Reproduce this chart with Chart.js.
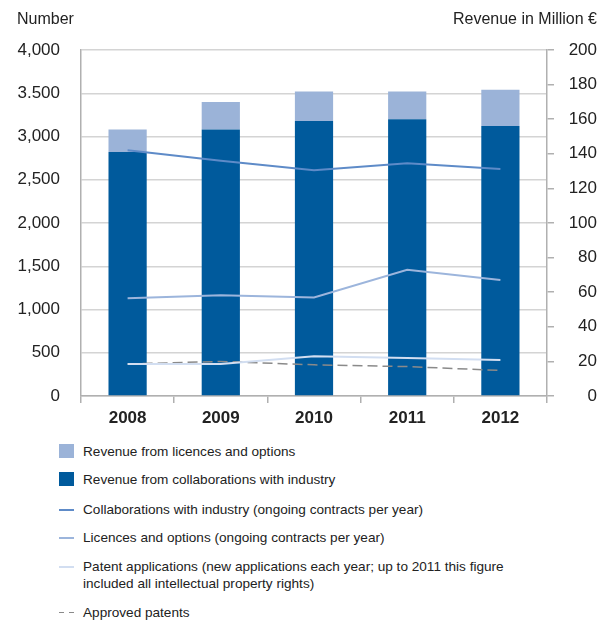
<!DOCTYPE html>
<html>
<head>
<meta charset="utf-8">
<script src="https://cdn.jsdelivr.net/npm/chart.js@4/dist/chart.umd.min.js"></script>
<style>
  body { margin: 0; background: #fff; font-family: "Liberation Sans", Arial, sans-serif; color: #222; }
  #wrap { position: relative; width: 612px; height: 621px; }
  #chart { position: absolute; left: 0; top: 0; }
  .head { position: absolute; top: 9px; font-size: 16px; line-height: 20px; }
  .legend { position: absolute; left: 0; top: 0; font-size: 13.6px; }
  .item { position: absolute; left: 83px; line-height: 17px; white-space: nowrap; }
  .sw { position: absolute; left: -24px; }
</style>
</head>
<body>
<div id="wrap">
  <canvas id="chart" width="612" height="440"></canvas>
  <div class="head" style="left:17px">Number</div>
  <div class="head" style="right:15px">Revenue in Million €</div>
  <div class="legend" id="legend"></div>
</div>
<script>
const years = ["2008", "2009", "2010", "2011", "2012"];

// revenue in million euro (right axis, stacked bars)
const revenueCollab = [141, 154, 159, 160, 156];
const revenueLicences = [13, 16, 17, 16, 21];

// counts (left axis, lines)
const contractsCollab = [2840, 2720, 2610, 2690, 2625];
const contractsLicences = [1130, 1165, 1140, 1460, 1340];
const patentApplications = [370, 370, 460, 440, 415];
const approvedPatents = [370, 400, 360, 340, 295];

const leftTicks = ["0", "500", "1,000", "1,500", "2,000", "2,500", "3,000", "3.500", "4,000"];
const rightTicks = ["0", "20", "40", "60", "80", "100", "120", "140", "160", "180", "200"];

const darkBlue = "#005a9c";
const lightBlue = "#9bb3d8";

const ctx = document.getElementById("chart").getContext("2d");
Chart.defaults.font.family = '"Liberation Sans", Arial, sans-serif';
Chart.defaults.color = "#222";

new Chart(ctx, {
  type: "bar",
  data: {
    labels: years,
    datasets: [
      { label: "Revenue from collaborations with industry", data: revenueCollab, backgroundColor: darkBlue,
        yAxisID: "y1", order: 2, barPercentage: 0.41, categoryPercentage: 1 },
      { label: "Revenue from licences and options", data: revenueLicences, backgroundColor: lightBlue,
        yAxisID: "y1", order: 2, barPercentage: 0.41, categoryPercentage: 1 },
      { type: "line", label: "Collaborations with industry", data: contractsCollab, borderColor: "#5e8bc8",
        borderWidth: 2, pointRadius: 0, tension: 0, yAxisID: "y", order: 0 },
      { type: "line", label: "Licences and options", data: contractsLicences, borderColor: "#9cb5dc",
        borderWidth: 2, pointRadius: 0, tension: 0, yAxisID: "y", order: 0 },
      { type: "line", label: "Patent applications", data: patentApplications, borderColor: "#d2def1",
        borderWidth: 2, pointRadius: 0, tension: 0, yAxisID: "y", order: 0 },
      { type: "line", label: "Approved patents", data: approvedPatents, borderColor: "#8a8a8a",
        borderWidth: 1.5, borderDash: [10, 5], pointRadius: 0, tension: 0, yAxisID: "y", order: 0 }
    ]
  },
  options: {
    responsive: false,
    animation: false,
    layout: { padding: { left: 0, right: 15, top: 50, bottom: 0 } },
    plugins: { legend: { display: false }, tooltip: { enabled: false } },
    scales: {
      x: {
        stacked: true,
        offset: true,
        grid: { offset: true, drawOnChartArea: false, tickLength: 7, color: "#b0b0b0", lineWidth: 1.5 },
        border: { color: "#b0b0b0", width: 1.5 },
        ticks: { font: { size: 17, weight: "bold" }, padding: 5 },
        afterFit: s => { s.height = 44; }
      },
      y: {
        position: "left",
        stacked: false,
        min: 0, max: 4000,
        grid: { color: "#d4d4d4", lineWidth: 1.5, drawTicks: false },
        border: { color: "#b0b0b0", width: 1.5 },
        ticks: { stepSize: 500, padding: 21, font: { size: 17 }, callback: (v, i) => leftTicks[i] },
        afterFit: s => { s.width = 81; }
      },
      y1: {
        position: "right",
        stacked: true,
        min: 0, max: 200,
        grid: { drawOnChartArea: false, tickLength: 7, color: "#b0b0b0", lineWidth: 1.5 },
        border: { color: "#b0b0b0", width: 1.5 },
        ticks: { stepSize: 20, crossAlign: "far", font: { size: 17 }, callback: (v, i) => rightTicks[i] },
        afterFit: s => { s.width = 50; }
      }
    }
  }
});

// legend below the chart
const legendItems = [
  { kind: "box", color: lightBlue, text: "Revenue from licences and options", y: 451 },
  { kind: "box", color: darkBlue, text: "Revenue from collaborations with industry", y: 479 },
  { kind: "line", color: "#5e8bc8", text: "Collaborations with industry (ongoing contracts per year)", y: 509 },
  { kind: "line", color: "#9cb5dc", text: "Licences and options (ongoing contracts per year)", y: 537 },
  { kind: "line", color: "#d2def1", text: "Patent applications (new applications each year; up to 2011 this figure<br>included all intellectual property rights)", y: 566 },
  { kind: "dash", color: "#8a8a8a", text: "Approved patents", y: 612 }
];
const legend = document.getElementById("legend");
legendItems.forEach(it => {
  const el = document.createElement("div");
  el.className = "item";
  el.style.top = (it.y - 8.5) + "px";
  let sw;
  if (it.kind === "box") {
    sw = `<span class="sw" style="top:1px;width:15px;height:14px;background:${it.color}"></span>`;
  } else if (it.kind === "line") {
    sw = `<span class="sw" style="top:8px;width:15px;height:2px;background:${it.color}"></span>`;
  } else {
    sw = `<span class="sw" style="top:8px;width:5px;height:1.5px;background:${it.color}"></span>` +
         `<span class="sw" style="top:8px;left:-14px;width:5px;height:1.5px;background:${it.color}"></span>`;
  }
  el.innerHTML = sw + it.text;
  legend.appendChild(el);
});
</script>
</body>
</html>
